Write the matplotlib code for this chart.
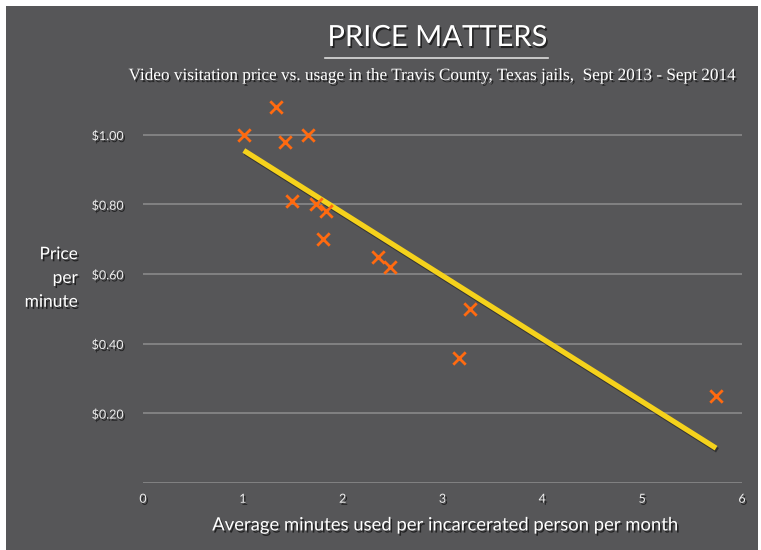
import matplotlib
matplotlib.use("Agg")
import matplotlib.pyplot as plt
import matplotlib.patheffects as pe
from matplotlib.patches import Rectangle

# minutes used per person per month vs price per minute
minutes = [1.01, 1.33, 1.42, 1.65, 1.49, 1.73, 1.83, 1.80, 2.35, 2.47, 3.28, 3.17, 5.74]
price = [1.00, 1.08, 0.98, 1.00, 0.81, 0.80, 0.78, 0.70, 0.65, 0.62, 0.50, 0.36, 0.25]

# trend line end points as drawn on the chart
trend_x = [1.01, 5.74]
trend_y = [0.955, 0.10]

x_ticks = [0, 1, 2, 3, 4, 5, 6]
y_ticks = [0.20, 0.40, 0.60, 0.80, 1.00]
y_tick_labels = ["\\$0.20", "\\$0.40", "\\$0.60", "\\$0.80", "\\$1.00"]

bg = "#565658"
font = "Lato"

fig = plt.figure(figsize=(7.61, 5.50), dpi=100, facecolor="white")
fig.patches.append(Rectangle((6 / 761, 0), 752 / 761, 544 / 550,
                             transform=fig.transFigure, facecolor=bg,
                             edgecolor="none", zorder=-10))

shadow = [pe.withSimplePatchShadow(offset=(1.2, -1.5), shadow_rgbFace="black", alpha=0.6)]

ax = fig.add_axes([143 / 761, 1 - 483 / 550, 599 / 761, 383 / 550])
ax.set_facecolor("none")
for s in ax.spines.values():
    s.set_visible(False)

# grid lines incl. baseline
for v in [0] + y_ticks:
    ax.axhline(v, color="#8e8e8e", lw=1.1, zorder=1)

ax.plot(trend_x, trend_y, color="#f5d21c", lw=3.8, solid_capstyle="butt", zorder=2,
        path_effects=[pe.SimpleLineShadow(offset=(1, -1.5), alpha=0.4), pe.Normal()])
ax.scatter(minutes, price, marker="x", s=80, color="#ff6a10", linewidths=2, zorder=3)

ax.set_xlim(0, 6)
ax.set_ylim(0, 1.1)
ax.set_xticks(x_ticks)
ax.set_yticks(y_ticks)
ax.set_yticklabels(y_tick_labels)
ax.tick_params(length=0, colors="#eeeeee", labelsize=9)
ax.tick_params(axis="y", pad=14)
ax.tick_params(axis="x", pad=7)
for lab in ax.get_xticklabels() + ax.get_yticklabels():
    lab.set_fontfamily(font)
    lab.set_path_effects(shadow)

ax.set_xlabel("Average minutes used per incarcerated person per month",
              fontsize=13.3, color="white", fontfamily=font,
              path_effects=shadow)
ax.xaxis.set_label_coords(0.505, -0.09)

fig.text(78 / 761, 1 - 278 / 550, "Price\nper\nminute", ha="right", va="center",
         fontsize=12.5, color="white", fontfamily=font, linespacing=1.6,
         path_effects=shadow)

fig.text(437 / 761, 1 - 38 / 550, "PRICE MATTERS", ha="center", va="center",
         fontsize=21, color="white", fontfamily=font, path_effects=shadow)
fig.add_artist(plt.Line2D([325 / 761, 548 / 761], [1 - 58 / 550, 1 - 58 / 550],
                          transform=fig.transFigure, color="#dddddd", lw=1.2))
fig.text(434 / 761, 1 - 76 / 550,
         "Video visitation price vs. usage in the Travis County, Texas jails,  Sept 2013 - Sept 2014",
         ha="center", va="center", fontsize=12.4, color="white",
         fontfamily="Liberation Serif", path_effects=shadow)

fig.savefig("out.png", dpi=100, facecolor="white")
